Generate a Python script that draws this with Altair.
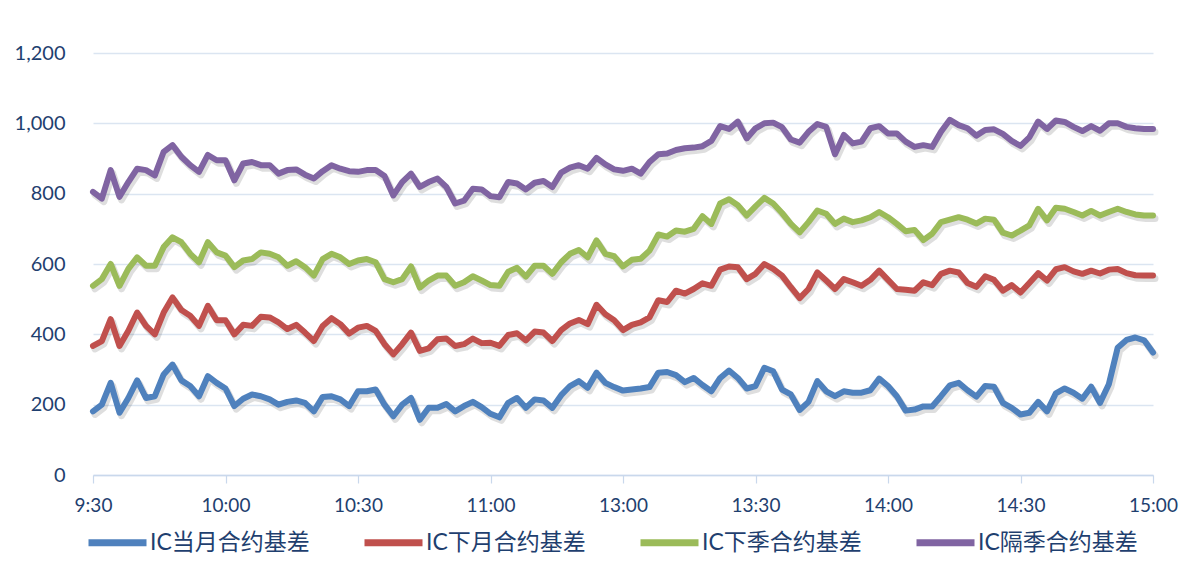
import altair as alt
import pandas as pd

# trading minutes since 9:30 (11:30 joins 13:00), sampled every 2 minutes
minutes = list(range(0, 241, 2))
tick_values = [0, 30, 60, 90, 120, 150, 180, 210, 240]
tick_labels = ['9:30', '10:00', '10:30', '11:00', '13:00', '13:30', '14:00', '14:30', '15:00']
y_ticks = [0, 200, 400, 600, 800, 1000, 1200]

series_names = ['IC当月合约基差', 'IC下月合约基差', 'IC下季合约基差', 'IC隔季合约基差']
series_colors = ['#4f81bd', '#c0504d', '#9bbb59', '#8064a2']

ic_current = [181, 200, 262, 177, 219, 269, 219, 224, 286, 314,
              269, 253, 224, 281, 262, 246, 196, 217, 229, 224,
              215, 200, 208, 212, 205, 181, 222, 224, 215, 196,
              238, 238, 243, 200, 167, 200, 219, 157, 191, 191,
              202, 181, 196, 208, 193, 174, 164, 205, 219, 191,
              215, 212, 191, 227, 253, 267, 248, 291, 262, 250,
              240, 243, 246, 250, 291, 293, 284, 264, 276, 256,
              238, 276, 297, 276, 246, 253, 305, 295, 243, 229,
              185, 208, 267, 238, 224, 238, 234, 234, 241, 274,
              253, 224, 183, 186, 195, 195, 224, 255, 262, 241,
              223, 253, 251, 205, 191, 172, 177, 208, 181, 232,
              246, 234, 217, 251, 205, 258, 362, 384, 391, 383,
              348]

ic_next = [367, 381, 443, 367, 410, 462, 424, 400, 462, 505,
           469, 453, 424, 481, 440, 440, 400, 427, 424, 450,
           448, 434, 415, 427, 405, 381, 424, 446, 429, 402,
           419, 424, 410, 372, 343, 372, 405, 353, 360, 386,
           388, 367, 372, 388, 375, 376, 367, 398, 403, 383,
           408, 405, 381, 412, 431, 441, 429, 484, 457, 440,
           412, 427, 434, 448, 497, 492, 524, 516, 529, 545,
           538, 584, 593, 591, 557, 572, 600, 586, 567, 534,
           503, 529, 576, 553, 529, 557, 548, 538, 555, 581,
           555, 529, 527, 524, 548, 540, 572, 581, 576, 546,
           535, 565, 555, 524, 540, 519, 546, 574, 553, 585,
           591, 579, 572, 581, 573, 584, 586, 574, 568, 567,
           567]

ic_quarter = [538, 557, 600, 538, 586, 619, 595, 595, 648, 676,
              662, 629, 605, 662, 633, 624, 591, 610, 614, 633,
              629, 619, 595, 608, 591, 567, 614, 629, 619, 600,
              610, 614, 605, 557, 548, 557, 593, 533, 553, 567,
              567, 538, 548, 565, 553, 540, 538, 578, 589, 564,
              595, 595, 572, 605, 629, 640, 619, 667, 629, 622,
              593, 612, 615, 638, 684, 678, 695, 692, 700, 736,
              714, 772, 784, 767, 738, 764, 788, 772, 745, 714,
              690, 719, 752, 743, 714, 729, 719, 724, 733, 748,
              733, 714, 693, 697, 668, 686, 719, 726, 733, 726,
              715, 729, 726, 689, 681, 695, 710, 757, 724, 760,
              757, 748, 738, 751, 738, 748, 757, 748, 741, 738,
              738]

ic_far = [805, 786, 867, 791, 833, 871, 867, 852, 919, 938,
          905, 881, 862, 910, 895, 895, 838, 886, 890, 881,
          881, 857, 867, 869, 854, 843, 864, 881, 871, 864,
          862, 867, 867, 850, 795, 833, 857, 819, 833, 843,
          819, 772, 780, 814, 812, 793, 790, 833, 829, 812,
          831, 836, 819, 860, 874, 881, 871, 902, 883, 869,
          865, 871, 857, 890, 912, 914, 924, 929, 931, 935,
          950, 992, 984, 1005, 957, 986, 1000, 1002, 989, 954,
          945, 976, 998, 990, 912, 967, 943, 948, 986, 992,
          971, 971, 948, 933, 938, 933, 976, 1010, 995, 986,
          965, 981, 983, 970, 950, 936, 960, 1005, 984, 1008,
          1004, 990, 978, 992, 979, 1000, 1000, 990, 986, 984,
          984]

rows = []
for name, vals in zip(series_names, [ic_current, ic_next, ic_quarter, ic_far]):
    for m, v in zip(minutes, vals):
        rows.append({'t': m, 'v': v, 's': name})
df = pd.DataFrame(rows)

label_expr = "[" + ",".join("'%s'" % l for l in tick_labels) + "][round(datum.value / 30)]"

FONT = "Lato, 'Noto Sans CJK SC', sans-serif"
TEXT = '#1f3f6f'

x = alt.X('t:Q',
          scale=alt.Scale(domain=[0, 240], nice=False, zero=False),
          axis=alt.Axis(values=tick_values, labelExpr=label_expr, title=None, grid=False,
                        domainColor='#c9d8ec', domainWidth=1.5,
                        tickColor='#c9d8ec', tickSize=8, tickWidth=1.2,
                        labelFontSize=19, labelFont=FONT, labelColor=TEXT, labelPadding=13,
                        labelFlush=False))
y = alt.Y('v:Q',
          scale=alt.Scale(domain=[0, 1200], nice=False),
          axis=alt.Axis(values=y_ticks, format=',d', title=None, domain=False, ticks=False,
                        tickSize=0, gridColor='#dbe5f1', gridWidth=1.5,
                        labelFontSize=20, labelFont=FONT, labelColor=TEXT, labelPadding=28))

shadow = alt.Chart(df).mark_line(
    strokeWidth=7, color='#000000', opacity=0.13, xOffset=2, yOffset=3,
    strokeJoin='round', strokeCap='round'
).encode(x=x, y=y, detail='s:N')

lines = alt.Chart(df).mark_line(
    strokeWidth=6, strokeJoin='round', strokeCap='round'
).encode(
    x=x, y=y,
    color=alt.Color('s:N',
                    scale=alt.Scale(domain=series_names, range=series_colors),
                    sort=series_names,
                    legend=alt.Legend(orient='none', legendX=-8, legendY=457,
                                      direction='horizontal', columns=4, title=None,
                                      symbolType='stroke', symbolSize=3364, symbolStrokeWidth=7,
                                      labelFontSize=23, labelFont=FONT, labelColor=TEXT,
                                      labelOffset=0, labelLimit=400, columnPadding=40))
)

chart = alt.layer(shadow, lines).properties(
    width=1060, height=422,
    autosize=alt.AutoSizeParams(type='none'),
    padding={'left': 85, 'top': 45, 'right': 40, 'bottom': 85},
    background='white'
).configure_view(stroke=None)

chart.save("out.html", embed_options={"renderer": "svg", "actions": False})
